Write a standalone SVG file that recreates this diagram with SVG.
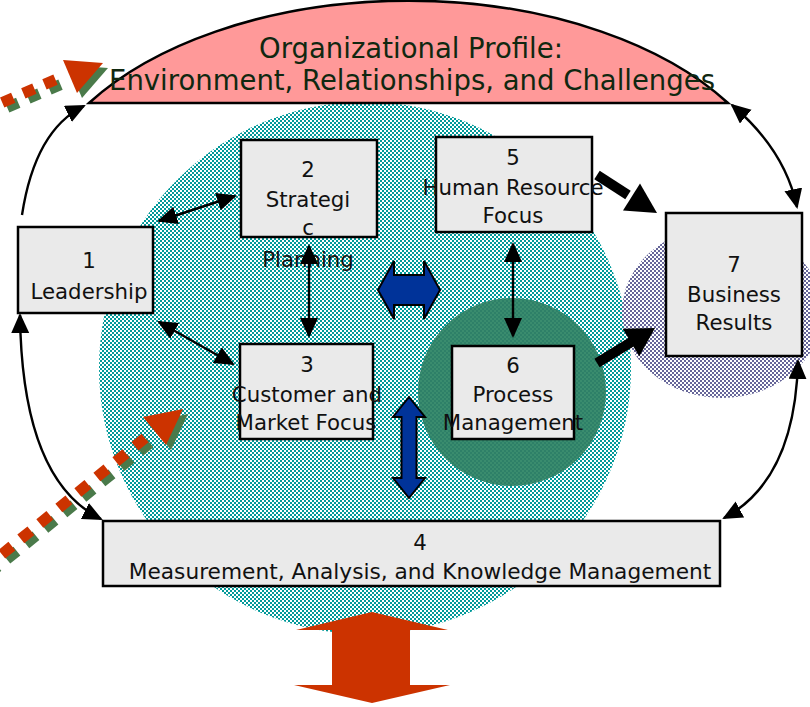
<svg xmlns="http://www.w3.org/2000/svg" width="810" height="707" viewBox="0 0 810 707">
<style>
.box{fill:#EAEAEA;stroke:#000;stroke-width:2.5}
.t{font-family:"DejaVu Sans",Verdana,sans-serif;font-size:21.3px;fill:#111;text-anchor:middle}
.title{font-family:"DejaVu Sans",Verdana,sans-serif;font-size:27.5px;fill:#102810;text-anchor:middle}
.thin{fill:none;stroke:#000;stroke-width:2.4;marker-start:url(#ah);marker-end:url(#ah)}
.thin1{fill:none;stroke:#000;stroke-width:2.4;marker-end:url(#ah)}
.blue{fill:#003399;stroke:#000;stroke-width:2}
.red{fill:#CC3300}
.dotr{fill:none;stroke:#CC3300;stroke-width:11}
.dotg{fill:none;stroke:#4A7A4A;stroke-width:11}
</style>
<defs>
<pattern id="teal" width="4" height="4" patternUnits="userSpaceOnUse">
<rect width="4" height="4" fill="#fff"/><rect width="2" height="2" fill="#009999"/><rect x="2" y="2" width="2" height="2" fill="#009999"/>
</pattern>
<pattern id="purp" width="4" height="4" patternUnits="userSpaceOnUse">
<rect width="4" height="4" fill="#fff"/><rect width="2" height="2" fill="#666699"/><rect x="2" y="2" width="2" height="2" fill="#666699"/>
</pattern>
<pattern id="dgreen" width="4" height="4" patternUnits="userSpaceOnUse">
<rect width="4" height="4" fill="#2E8068"/><rect width="2" height="2" fill="#3A8C6E"/><rect x="2" y="2" width="2" height="2" fill="#3A8C6E"/>
</pattern>
<marker id="ah" markerUnits="userSpaceOnUse" markerWidth="22" markerHeight="20" refX="18" refY="9" orient="auto-start-reverse" viewBox="0 0 22 20">
<path d="M0 0 L20 9 L0 18 Z" fill="#000"/>
</marker>
</defs>
<rect width="810" height="707" fill="#fff"/>

<g id="background">
<circle cx="365" cy="368" r="266" fill="url(#teal)"/>
<ellipse cx="722" cy="312" rx="100" ry="86" fill="url(#purp)"/>
<circle cx="512" cy="392" r="94" fill="url(#dgreen)"/>
</g>

<g id="profile">
<path d="M89 103 A380 223 0 0 1 728 103 Z" fill="#FF9999" stroke="#000" stroke-width="2.5"/>
<text class="title" x="411" y="58">Organizational Profile:</text>
<text class="title" x="412" y="90">Environment, Relationships, and Challenges</text>
</g>

<g id="node1">
<rect class="box" x="18" y="227" width="135" height="86"/>
<text class="t" x="89" y="268">1</text>
<text class="t" x="89" y="299">Leadership</text>
</g>
<g id="node2">
<rect class="box" x="241" y="140" width="136" height="97"/>
<text class="t" x="308" y="177">2</text>
<text class="t" x="308" y="207">Strategi</text>
<text class="t" x="308" y="235">c</text>
<text class="t" x="308" y="267">Planning</text>
</g>
<g id="node5">
<rect class="box" x="436" y="137" width="156" height="95"/>
<text class="t" x="513" y="165">5</text>
<text class="t" x="513" y="195">Human Resource</text>
<text class="t" x="513" y="223">Focus</text>
</g>
<g id="node3">
<rect class="box" x="240" y="344" width="133" height="95"/>
<text class="t" x="307" y="372">3</text>
<text class="t" x="307" y="402">Customer and</text>
<text class="t" x="306" y="430">Market Focus</text>
</g>
<g id="node6">
<rect class="box" x="452" y="346" width="122" height="93"/>
<text class="t" x="513" y="373">6</text>
<text class="t" x="513" y="402">Process</text>
<text class="t" x="513" y="430">Management</text>
</g>
<g id="node7">
<rect class="box" x="666" y="213" width="136" height="143"/>
<text class="t" x="734" y="272">7</text>
<text class="t" x="734" y="302">Business</text>
<text class="t" x="734" y="330">Results</text>
</g>
<g id="node4">
<rect class="box" x="103" y="521" width="617" height="65"/>
<text class="t" x="420" y="550">4</text>
<text class="t" x="420" y="579" style="font-size:21.7px">Measurement, Analysis, and Knowledge Management</text>
</g>

<g id="connectors">
<path class="thin1" d="M22 215 Q35 130 84 106"/>
<path class="thin" d="M20 315 Q22 480 101 519"/>
<path class="thin" d="M732 105 Q785 150 797 207"/>
<path class="thin" d="M798 361 Q795 480 724 518"/>
<path class="thin" d="M159 221 L235 196"/>
<path class="thin" d="M159 322 L233 364"/>
<path class="thin" d="M309 246 L309 336"/>
<path class="thin" d="M513 244 L513 336"/>
<g id="bold57">
<line x1="597" y1="175" x2="628" y2="195" stroke="#000" stroke-width="10"/>
<polygon points="657,213 623,210.5 640,183.5" fill="#000"/>
</g>
<g id="bold67">
<line x1="597" y1="363" x2="633" y2="341" stroke="#000" stroke-width="10"/>
<polygon points="655,328 639.3,356.2 622.7,328.8" fill="#000"/>
</g>
<polygon class="blue" points="378,290 394,261 394,275 424,275 424,261 440,290 424,319 424,305 394,305 394,319"/>
<polygon class="blue" points="409,397 425,417 416.5,417 416.5,478 425,478 409,498 393,478 401.5,478 401.5,417 393,417"/>
<polygon class="red" points="372,612 448,630 410,630 410,685 450,685 372,703 294,685 332,685 332,630 296,630"/>
<g id="influence-upper">
<g transform="translate(5,5)">
<path class="dotg" d="M55.5 79.6 L-30 116.3" stroke-dasharray="12 11"/>
<polygon points="63,60 103,63 77,93" fill="#4A7A4A"/>
</g>
<path class="dotr" d="M55.5 79.6 L-30 116.3" stroke-dasharray="12 11"/>
<polygon points="63,60 103,63 77,93" fill="#CC3300"/>
</g>
<g id="influence-lower">
<g transform="translate(5,5)">
<path class="dotg" d="M145 438 L-20 572" stroke-dasharray="13 11.5"/>
<polygon points="143,417 183,409 166,445" fill="#4A7A4A"/>
</g>
<path class="dotr" d="M145 438 L-20 572" stroke-dasharray="13 11.5"/>
<polygon points="143,417 183,409 166,445" fill="#CC3300"/>
</g>
</g>
</svg>
